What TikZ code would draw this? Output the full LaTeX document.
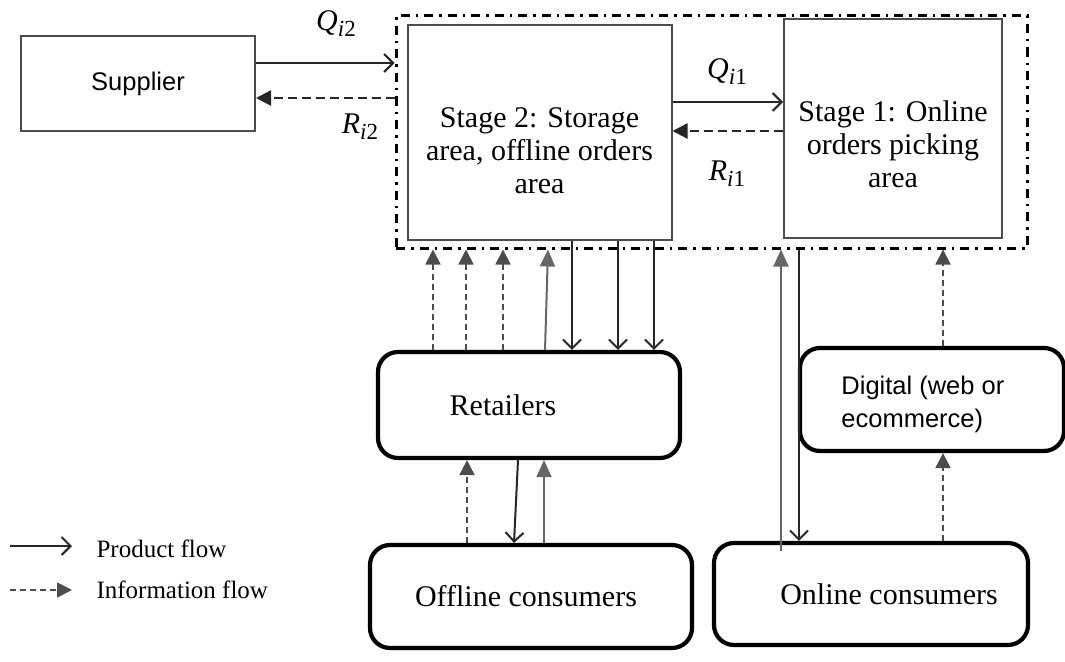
\documentclass[tikz,border=0pt]{standalone}
\usepackage{fontspec}
\setmainfont{Liberation Serif}
\newfontfamily\sanstext{Liberation Sans}
\usetikzlibrary{arrows.meta,shapes}

\newcommand{\flowvar}[2]{\textit{#1}\raisebox{-6pt}{\fontsize{23pt}{23pt}\selectfont\textit{i}#2}}

\tikzset{
  box/.style={draw=black!70, line width=2pt, inner sep=0pt},
  roundbox/.style={draw, line width=4.2pt, rounded corners=20pt, inner sep=0pt},
  frame/.style={draw=black, line width=3pt, dash pattern=on 9pt off 6pt on 2.5pt off 6pt, inner sep=0pt},
  prod/.style={black!85, line width=2pt, -{Straight Barb[length=9pt,width=18pt,line width=2pt]}},
  info/.style={black!70, line width=1.8pt, dash pattern=on 6pt off 4pt, -{Triangle[length=15pt,width=15pt]}},
  infoh/.style={black!85, line width=2.4pt, dash pattern=on 9pt off 5pt, -{Triangle[length=15pt,width=15pt]}},
  back/.style={black!60, line width=2pt, -{Triangle[length=17pt,width=15pt]}},
  serif/.style={font=\fontsize{30pt}{33pt}\selectfont},
  sans/.style={font=\sanstext\fontsize{25.5pt}{33pt}\selectfont},
  mathlbl/.style={font=\fontsize{30pt}{30pt}\selectfont, inner sep=0pt},
}

\begin{document}
\begin{tikzpicture}[x=1pt,y=-1pt]
\useasboundingbox (0,0) rectangle (1065,661);

% Nodes
\node[box, minimum width=234pt, minimum height=95pt, sans] (supplier) at (138,83.5) {Supplier};
\node[frame, minimum width=631pt, minimum height=232pt] (frame) at (711.5,132) {};
\node[box, fill=white, minimum width=264pt, minimum height=215pt,
  label={[serif, align=center, yshift=-18pt]center:{Stage 2: Storage\\area, offline orders\\area}}] (stage2) at (539.5,132.5) {};
\node[box, fill=white, minimum width=218pt, minimum height=219pt,
  label={[serif, align=center, yshift=-16pt]center:{Stage 1: Online\\orders picking\\area}}] (stage1) at (893,128.5) {};
\node[roundbox, minimum width=302pt, minimum height=106pt,
  label={[serif, xshift=-26pt]center:Retailers}] (retailers) at (529,405) {};
\node[roundbox, minimum width=264pt, minimum height=103pt,
  label={[sans, align=left, anchor=west, xshift=40pt, yshift=-5pt]west:{Digital (web or\\ecommerce)}}] (digital) at (932,399.5) {};
\node[roundbox, minimum width=322pt, minimum height=103pt,
  label={[serif, xshift=-5pt]center:Offline consumers}] (offline) at (531,596.5) {};
\node[roundbox, minimum width=314pt, minimum height=102pt,
  label={[serif, xshift=18pt]center:Online consumers}] (online) at (871,594) {};

% labels of the flows
\node[mathlbl] (q2) at (336,24) {\flowvar{Q}{2}};
\node[mathlbl] (r2) at (360,127) {\flowvar{R}{2}};
\node[mathlbl] (q1) at (727,72) {\flowvar{Q}{1}};
\node[mathlbl] (r1) at (727,174) {\flowvar{R}{1}};

% top flows
\draw[prod] (supplier.east |- 0,63) -- (frame.west |- 0,63);
\draw[infoh] (frame.west |- 0,98) -- (supplier.east |- 0,98);
\draw[prod] (stage2.east |- 0,102) -- (stage1.west |- 0,102);
\draw[infoh] (stage1.west |- 0,131) -- (stage2.east |- 0,131);

% retailers <-> warehouse
\foreach \x in {433,466,503}
  \draw[info] (retailers.north -| \x,0) -- (frame.south -| \x,0);
\draw[back] (retailers.north -| 545,0) -- (frame.south -| 548,0);
\foreach \x in {572,618,654}
  \draw[prod] (stage2.south -| \x,0) -- (retailers.north -| \x,0);

% offline consumers <-> retailers
\draw[info] (offline.north -| 467,0) -- (retailers.south -| 467,0);
\draw[prod] (retailers.south -| 518,0) -- (offline.north -| 514,0);
\draw[back] (offline.north -| 544,0) -- (retailers.south -| 544,0);

% online side
\coordinate (onlinefoot) at (781,551);
\draw[back] (onlinefoot) -- (frame.south -| 781,0);
\draw[prod] (frame.south -| 799,0) -- (online.north -| 799,0);
\draw[info] (digital.north -| 943,0) -- (frame.south -| 943,0);
\draw[info] (online.north -| 943,0) -- (digital.south -| 943,0);

% legend
\coordinate (p1) at (10,546);
\coordinate (p2) at (72,546);
\coordinate (i1) at (10,590);
\coordinate (i2) at (72,590);
\draw[prod] (p1) -- (p2);
\draw[info] (i1) -- (i2);
\node[anchor=west, font=\fontsize{25pt}{30pt}\selectfont] (prodtext) at (93,549) {Product flow};
\node[anchor=west, font=\fontsize{25pt}{30pt}\selectfont] (infotext) at (93,590) {Information flow};
\end{tikzpicture}
\end{document}
